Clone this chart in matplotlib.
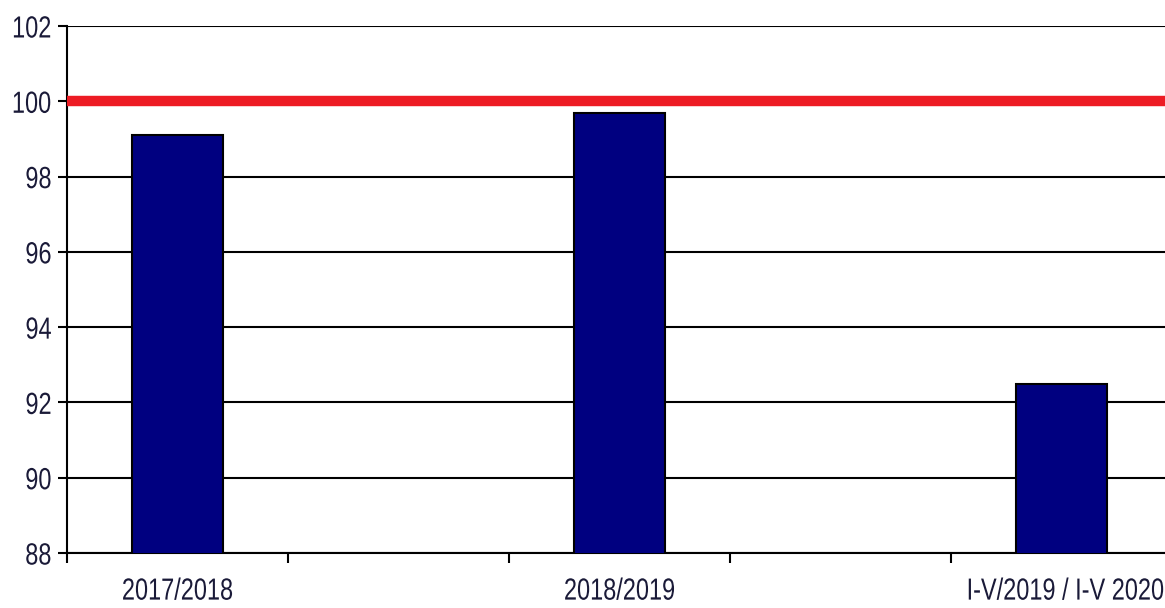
import numpy as np
import matplotlib
matplotlib.use("Agg")
import matplotlib.pyplot as plt
from matplotlib.ticker import FixedLocator
from matplotlib.patheffects import AbstractPathEffect
from matplotlib.transforms import Affine2D, ScaledTranslation

categories = ["2017/2018", "2018/2019", "I-V/2019 / I-V 2020"]
values = [99.1, 99.7, 92.5]
reference_level = 100
y_ticks = [88, 90, 92, 94, 96, 98, 100, 102]

plt.rcParams['font.family'] = ['Liberation Sans', 'DejaVu Sans']


class Condense(AbstractPathEffect):
    """Horizontally compress text glyphs (emulates a narrow font)."""
    def __init__(self, sx=0.75, align="center"):
        super().__init__()
        self.sx = sx
        self.align = align

    def draw_path(self, renderer, gc, tpath, affine, rgbFace=None):
        ext = tpath.get_extents()
        if self.align == "center":
            cx = (ext.x0 + ext.x1) / 2
        elif self.align == "right":
            cx = ext.x1
        else:
            cx = ext.x0
        t = Affine2D().translate(-cx, 0).scale(self.sx, 1).translate(cx, 0) + affine
        renderer.draw_path(gc, tpath, t, rgbFace)


W, H = 1165, 608
fig = plt.figure(figsize=(W / 100, H / 100), dpi=100)
left, right, top, bottom = 67, 1172, 26, 553
ax = fig.add_axes([left / W, (H - bottom) / H, (right - left) / W, (bottom - top) / H])

x = np.arange(len(categories)) * 2
ax.bar(x, values, width=0.41, color="#000080", edgecolor="black", linewidth=1.5, zorder=3)
ax.axhline(reference_level, color="#ED1C24", linewidth=7.5, zorder=4)

ax.set_ylim(88, 102)
ax.set_xlim(-0.5, 2 * len(categories) - 1.5)
ax.set_yticks(y_ticks)
ax.yaxis.grid(True, color="black", linewidth=1.5, zorder=1)
ax.set_axisbelow(True)

ax.set_xticks(x)
ax.set_xticklabels(categories)
ax.xaxis.set_minor_locator(FixedLocator(np.arange(-0.5, 2 * len(categories) - 1, 1.0)))
txt_color = "#1a1a38"
ax.tick_params(axis="x", which="major", length=0, pad=17, labelsize=22, labelcolor=txt_color)
ax.tick_params(axis="x", which="minor", length=7, width=1.5, direction="out", color="black")
ax.tick_params(axis="y", length=6.5, width=1.5, direction="out", pad=4.5, labelsize=22, labelcolor=txt_color)

SX = 0.77
xlabels = ax.get_xticklabels()
for lab in xlabels:
    lab.set_path_effects([Condense(SX, "center")])
# last label sits at the right edge: right-align it so its box stays inside the figure
last = xlabels[-1]
last.set_horizontalalignment("right")
last.set_path_effects([Condense(SX, "right")])
last.set_transform(last.get_transform() + ScaledTranslation(1.03, 0, fig.dpi_scale_trans))

for lab in ax.get_yticklabels():
    lab.set_path_effects([Condense(SX, "right")])

for s in ["top", "right"]:
    ax.spines[s].set_visible(False)
for s in ["left", "bottom"]:
    ax.spines[s].set_linewidth(1.5)
    ax.spines[s].set_color("black")

fig.savefig("out.png", dpi=100)
